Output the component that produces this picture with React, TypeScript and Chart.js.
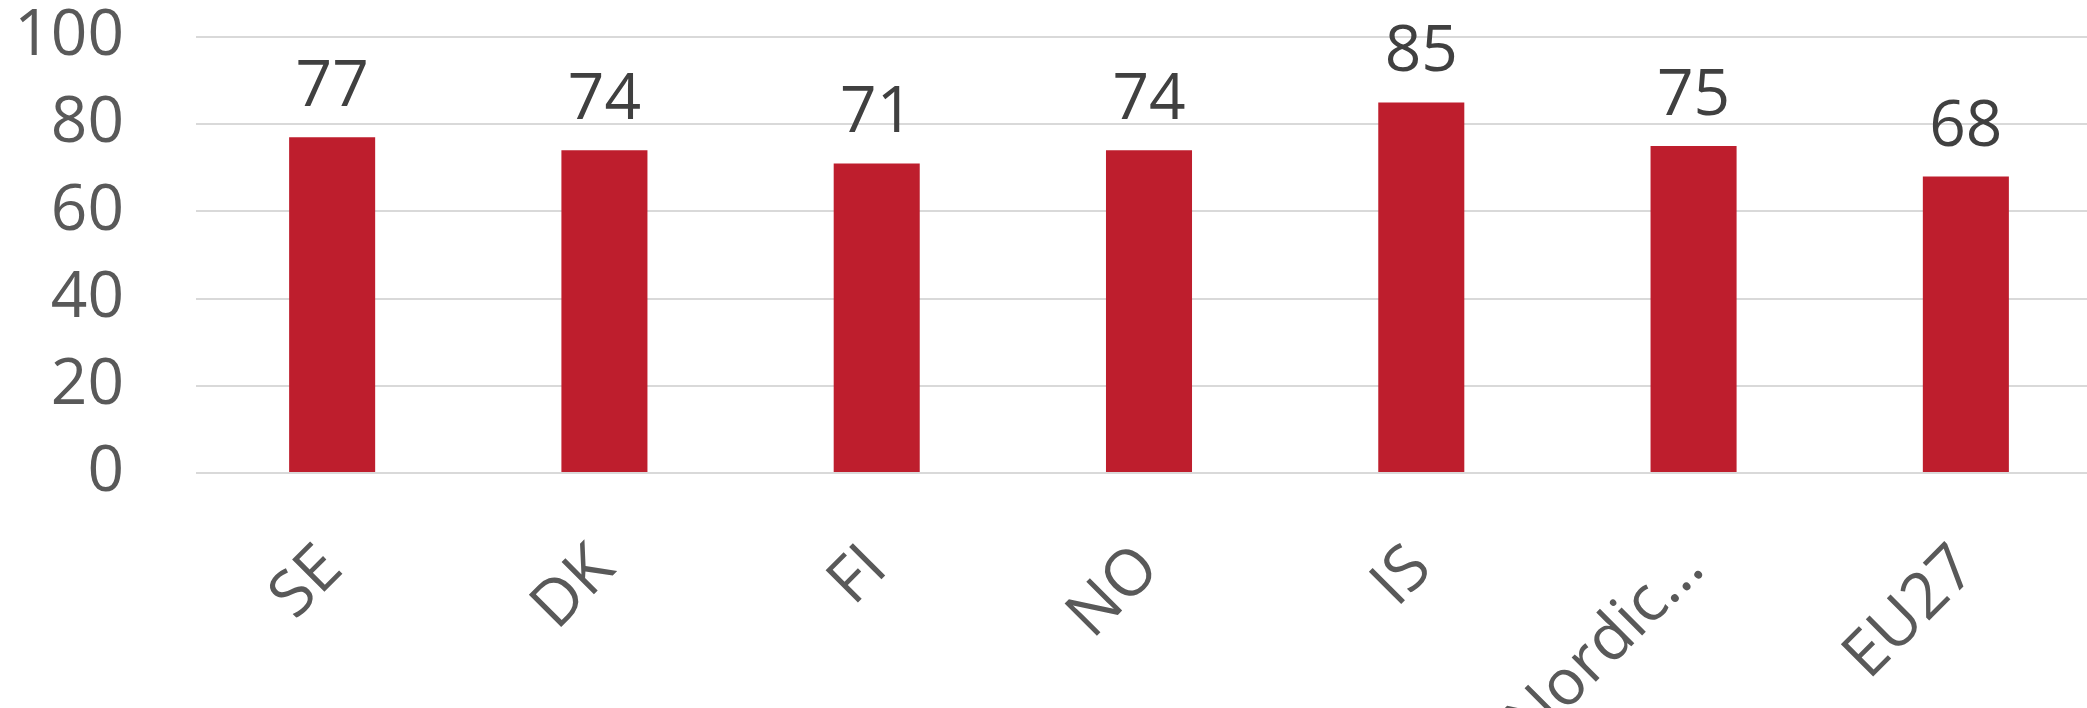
import { useEffect, useRef } from "react";
import { Chart, registerables } from "chart.js";

Chart.register(...registerables);

const categories = ["SE", "DK", "FI", "NO", "IS", "Nordic…", "EU27"];
const shares = [77, 74, 71, 74, 85, 75, 68];
const yTicks = [0, 20, 40, 60, 80, 100];

const FONT = "'Open Sans', 'Noto Sans', sans-serif";

// values written above each bar
const valueLabels = {
	id: "valueLabels",
	afterDatasetsDraw(chart: Chart) {
		const { ctx } = chart;
		const meta = chart.getDatasetMeta(0);
		ctx.save();
		ctx.font = `64px ${FONT}`;
		ctx.fillStyle = "#404040";
		ctx.textAlign = "center";
		ctx.textBaseline = "alphabetic";
		meta.data.forEach((bar, i) => {
			ctx.fillText(String(shares[i]), bar.x, bar.y - 31);
		});
		ctx.restore();
	},
};

export default function App() {
	const canvasRef = useRef<HTMLCanvasElement | null>(null);

	useEffect(() => {
		if (!canvasRef.current) return;
		const chart = new Chart(canvasRef.current, {
			type: "bar",
			data: {
				labels: categories,
				datasets: [
					{
						data: shares,
						backgroundColor: "#BE1E2D",
						categoryPercentage: 1,
						barPercentage: 0.316,
					},
				],
			},
			options: {
				responsive: true,
				maintainAspectRatio: false,
				animation: false,
				layout: { padding: 0 },
				plugins: {
					legend: { display: false },
					tooltip: { enabled: false },
				},
				scales: {
					x: {
						grid: { display: false },
						border: { display: false },
						ticks: {
							color: "#595959",
							font: { size: 64, family: FONT },
							minRotation: 45,
							maxRotation: 45,
							autoSkip: false,
							padding: 50,
						},
						afterFit: (scale) => {
							scale.height = 235;
						},
					},
					y: {
						min: 0,
						max: 100,
						afterBuildTicks: (scale) => {
							scale.ticks = yTicks.map((v) => ({ value: v }));
						},
						// invisible tick marks push the labels left without padding the top
						grid: {
							color: "#D9D9D9",
							lineWidth: 2,
							drawTicks: true,
							tickLength: 67,
							tickColor: "rgba(0,0,0,0)",
						},
						border: { display: false },
						ticks: {
							color: "#595959",
							font: { size: 64, family: FONT, lineHeight: 1 },
							padding: 5,
							autoSkip: false,
						},
						afterFit: (scale) => {
							scale.width = 196;
						},
					},
				},
			},
			plugins: [valueLabels],
		});
		return () => chart.destroy();
	}, []);

	return (
		<div style={{ position: "fixed", left: 0, top: 0, width: 2087, height: 708, overflow: "hidden", background: "#fff" }}>
			<div style={{ position: "relative", width: 2102, height: 708 }}>
				<canvas ref={canvasRef} />
			</div>
		</div>
	);
}
